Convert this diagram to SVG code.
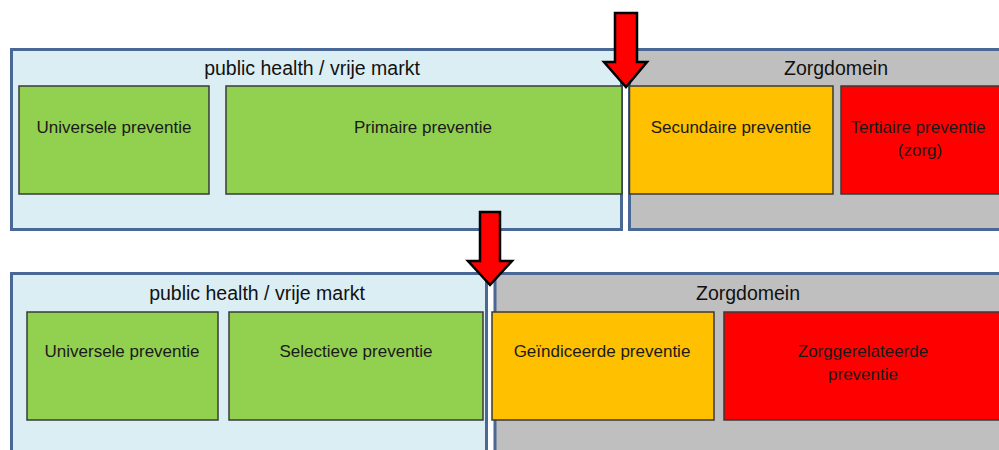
<svg xmlns="http://www.w3.org/2000/svg" width="999" height="450" viewBox="0 0 999 450">
<style>
.pub{fill:#DBEEF4;stroke:#4A6896;stroke-width:3}
.zorg{fill:#BFBFBF;stroke:#4A6896;stroke-width:3}
.box{stroke:#3A3A3A;stroke-width:1.5}
.g{fill:#92D050}.o{fill:#FFC000}.r{fill:#FF0000}
.t{font-family:"Liberation Sans",Arial,sans-serif;font-size:17px;fill:#1A1A1A;text-anchor:middle}
.h{font-family:"Liberation Sans",Arial,sans-serif;font-size:19.5px;fill:#111;text-anchor:middle}
.arrow{fill:#FF0000;stroke:#000;stroke-width:2.5;stroke-linejoin:miter}
</style>
<rect width="999" height="450" fill="#fff"/>
<g id="top-public">
<rect class="pub" x="11.5" y="49.5" width="610" height="180"/>
<text class="h" x="312" y="75">public health / vrije markt</text>
</g>
<g id="top-zorg">
<rect class="zorg" x="629.5" y="49.5" width="380" height="180"/>
<text class="h" x="836" y="75">Zorgdomein</text>
</g>
<g id="universele-1"><rect class="box g" x="19" y="86" width="190" height="108"/><text class="t" x="114" y="133">Universele preventie</text></g>
<g id="primaire"><rect class="box g" x="226" y="86" width="396" height="108"/><text class="t" x="423" y="133">Primaire preventie</text></g>
<g id="secundaire"><rect class="box o" x="629.5" y="86" width="203.5" height="108"/><text class="t" x="731" y="133">Secundaire preventie</text></g>
<g id="tertiaire"><rect class="box r" x="841" y="86" width="170" height="108"/><text class="t" x="918" y="133">Tertiaire preventie</text><text class="t" x="920" y="156">(zorg)</text></g>
<g id="bottom-public">
<rect class="pub" x="11.5" y="273.5" width="475" height="190"/>
<text class="h" x="257" y="300">public health / vrije markt</text>
</g>
<g id="bottom-zorg">
<rect class="zorg" x="495" y="273.5" width="515" height="190"/>
<text class="h" x="748" y="300">Zorgdomein</text>
</g>
<g id="universele-2"><rect class="box g" x="27" y="312" width="191" height="108"/><text class="t" x="122" y="357">Universele preventie</text></g>
<g id="selectieve"><rect class="box g" x="229" y="312" width="254" height="108"/><text class="t" x="356" y="357">Selectieve preventie</text></g>
<g id="geindiceerde"><rect class="box o" x="492" y="312" width="222" height="108"/><text class="t" x="602" y="357">Geïndiceerde preventie</text></g>
<g id="zorggerelateerde"><rect class="box r" x="724" y="312" width="290" height="108"/><text class="t" x="863" y="357">Zorggerelateerde</text><text class="t" x="863" y="380">preventie</text></g>
<g id="connectors">
<path class="arrow" d="M615,13 L637,13 L637,62 L647,62 L626,87 L604,62 L615,62 Z"/>
<path class="arrow" d="M480,212 L500,212 L500,261 L512,261 L490,285 L468,261 L480,261 Z"/>
</g>
</svg>
